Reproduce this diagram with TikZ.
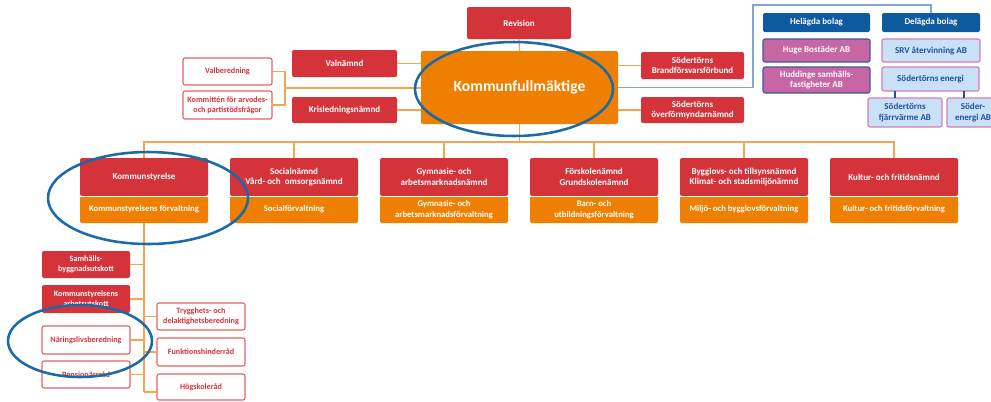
\documentclass[tikz,border=0pt]{standalone}
\usepackage{fontspec}
\setmainfont{Carlito}
\definecolor{kred}{HTML}{D5333A}
\definecolor{kredl}{HTML}{E06466}
\definecolor{korange}{HTML}{EE7F00}
\definecolor{kdblue}{HTML}{0E5A9E}
\definecolor{kpink}{HTML}{C765A5}
\definecolor{kpinkb}{HTML}{D77CB8}
\definecolor{klblue}{HTML}{C9E1F7}
\definecolor{kbtext}{HTML}{2050A0}
\definecolor{kbord}{HTML}{3B5A9A}
\definecolor{koline}{HTML}{F5A550}
\definecolor{kbline}{HTML}{7FA6DC}
\definecolor{kell}{HTML}{1A6AA8}
\newcommand\bx[7]{\node[#6, minimum width={(#4-#2)*0.75pt}, minimum height={(#5-#3)*0.75pt}] (#1) at ({(#2+#4)/2},{(#3+#5)/2}) {#7};}
\tikzset{
  basebox/.style={inner sep=0pt, outer sep=0pt, align=center, rounded corners=1.5pt},
  redbox/.style={basebox, fill=kred, text=white, font=\fontsize{6.75}{8}\selectfont\bfseries},
  redsm/.style={basebox, fill=kred, text=white, font=\fontsize{6.1}{7.4}\selectfont\bfseries},
  orbox/.style={basebox, fill=korange, text=white, font=\fontsize{6.5}{7.8}\selectfont\bfseries},
  kfbox/.style={basebox, fill=korange, text=white, font=\fontsize{11.7}{14}\selectfont\bfseries},
  outbox/.style={basebox, fill=white, draw=kredl, line width=0.8pt, text=kred, font=\fontsize{6.1}{7.4}\selectfont\bfseries},
  dbbox/.style={basebox, fill=kdblue, text=white, font=\fontsize{6.75}{8}\selectfont\bfseries},
  pkbox/.style={basebox, fill=kpink, draw=kbord, line width=0.8pt, text=white, font=\fontsize{6.75}{8}\selectfont\bfseries},
  lbbox/.style={basebox, fill=klblue, draw=kpinkb, line width=0.9pt, text=kbtext, font=\fontsize{6.75}{8}\selectfont\bfseries},
  oline/.style={draw=koline, line width=0.9pt},
  bline/.style={draw=kbline, line width=0.8pt},
  dline/.style={draw=kdblue, line width=0.8pt},
  ell/.style={draw=kell, line width=1.9pt},
}
\begin{document}
\begin{tikzpicture}[x=0.75pt, y=-0.75pt]
\useasboundingbox (0,0) rectangle (991,401);
\begin{scope}
\clip (0,0) rectangle (991,401);
% top
\bx{rev}{467}{7}{571}{39}{redbox}{Revision}
\bx{kf}{421}{51}{618}{124}{kfbox}{Kommunfullmäktige}
\bx{val}{292}{50}{397}{77}{redbox}{Valnämnd}
\bx{kris}{292}{97}{397}{123}{redbox}{Krisledningsnämnd}
\bx{valb}{183}{58}{272}{85}{outbox}{Valberedning}
\bx{komm}{183}{91}{272}{119}{outbox}{Kommittén för arvodes-\\och partistödsfrågor}
\bx{brand}{641}{52}{744}{79}{redbox}{Södertörns\\Brandförsvarsförbund}
\bx{overf}{641}{97}{744}{123}{redbox}{Södertörns\\överförmyndarnämnd}
% companies
\bx{hel}{763}{13}{870}{32}{dbbox}{Helägda bolag}
\bx{del}{882}{13}{980}{32}{dbbox}{Delägda bolag}
\bx{huge}{763}{39}{870}{62}{pkbox}{Huge Bostäder AB}
\bx{hudd}{763}{67}{870}{93}{pkbox}{Huddinge samhälls-\\fastigheter AB}
\bx{srv}{882}{39}{980}{62}{lbbox}{SRV återvinning AB}
\bx{en}{882}{67}{979}{91}{lbbox}{Södertörns energi}
\bx{fjv}{868}{98}{942}{127}{lbbox}{Södertörns\\fjärrvärme AB}
\bx{sod}{947}{98}{999}{127}{lbbox}{Söder-\\energi AB}
% middle row
\bx{n1}{80}{158}{208}{196}{redbox}{Kommunstyrelse}
\bx{f1}{80}{196}{208}{223}{orbox}{Kommunstyrelsens förvaltning}
\bx{n2}{230}{158}{358}{196}{redbox}{Socialnämnd\\Vård- och\ \ omsorgsnämnd}
\bx{f2}{230}{196}{358}{223}{orbox}{Socialförvaltning}
\bx{n3}{380}{158}{508}{196}{redbox}{Gymnasie- och\\arbetsmarknadsnämnd}
\bx{f3}{380}{196}{508}{223}{orbox}{Gymnasie- och\\arbetsmarknadsförvaltning}
\bx{n4}{530}{158}{658}{196}{redbox}{Förskolenämnd\\Grundskolenämnd}
\bx{f4}{530}{196}{658}{223}{orbox}{Barn- och\\utbildningsförvaltning}
\bx{n5}{680}{158}{808}{196}{redbox}{Bygglovs- och tillsynsnämnd\\Klimat- och stadsmiljönämnd}
\bx{f5}{680}{196}{808}{223}{orbox}{Miljö- och bygglovsförvaltning}
\bx{n6}{830}{158}{958}{196}{redbox}{Kultur- och fritidsnämnd}
\bx{f6}{830}{196}{958}{223}{orbox}{Kultur- och fritidsförvaltning}
\foreach \i in {1,...,6}{\draw[white, line width=0.5pt] (n\i.south west) -- (n\i.south east);}
% bottom
\bx{samh}{42}{251}{130}{278}{redsm}{Samhälls-\\byggnadsutskott}
\bx{ksau}{42}{285}{130}{313}{redsm}{Kommunstyrelsens\\arbetsutskott}
\bx{nar}{42}{326}{130}{354}{outbox}{Näringslivsberedning}
\bx{pens}{42}{361}{130}{388}{outbox}{Pensionärsråd}
\bx{tryg}{157}{303}{245}{330}{outbox}{Trygghets- och\\delaktighetsberedning}
\bx{funk}{157}{338}{245}{366}{outbox}{Funktionshinderråd}
\bx{hog}{157}{374}{245}{400}{outbox}{Högskoleråd}
% connectors
\coordinate (bus) at (519.5,142);
\coordinate (vj) at (285,88);
\coordinate (kb) at (144,392);
\coordinate (bl) at (753,5);
\draw[oline] (rev.south) -- (kf.north);
\draw[oline] (kf.south) -- (bus);
\foreach \i in {1,...,6}{\draw[oline] (n\i.north) |- (bus);}
\draw[oline] (val.east) -- (val.east -| kf.west);
\draw[oline] (kris.east) -- (kris.east -| kf.west);
\draw[oline] (valb.east) -| (vj);
\draw[oline] (komm.east) -| (vj);
\draw[oline] (vj) -- (vj -| kf.west);
\draw[oline] (brand.west) -- (brand.west -| kf.east);
\draw[oline] (overf.west) -- (overf.west -| kf.east);
\draw[bline] (kf.east) -| (bl) -| (del.north);
\draw[dline] ([xshift=-7.5pt]fjv.north) -- ([xshift=-7.5pt]fjv.north |- en.south);
\draw[dline] ([xshift=-6.75pt]sod.north) -- ([xshift=-6.75pt]sod.north |- en.south);
\draw[oline] (f1.south) -- (kb);
\foreach \b in {samh,ksau,nar,pens}{\draw[oline] (\b.east) -- (\b.east -| kb);}
\foreach \b in {tryg,funk}{\draw[oline] (\b.west) -- (\b.west -| kb);}
\draw[oline] (kb) -- (kb -| hog.west);
% ellipses
\draw[ell] (514,89) ellipse [x radius=74.25pt, y radius=35.25pt];
\draw[ell] (148,198) ellipse [x radius=75pt, y radius=34.5pt];
\draw[ell] (80,341) ellipse [x radius=54pt, y radius=27pt];
\end{scope}
\end{tikzpicture}
\end{document}
